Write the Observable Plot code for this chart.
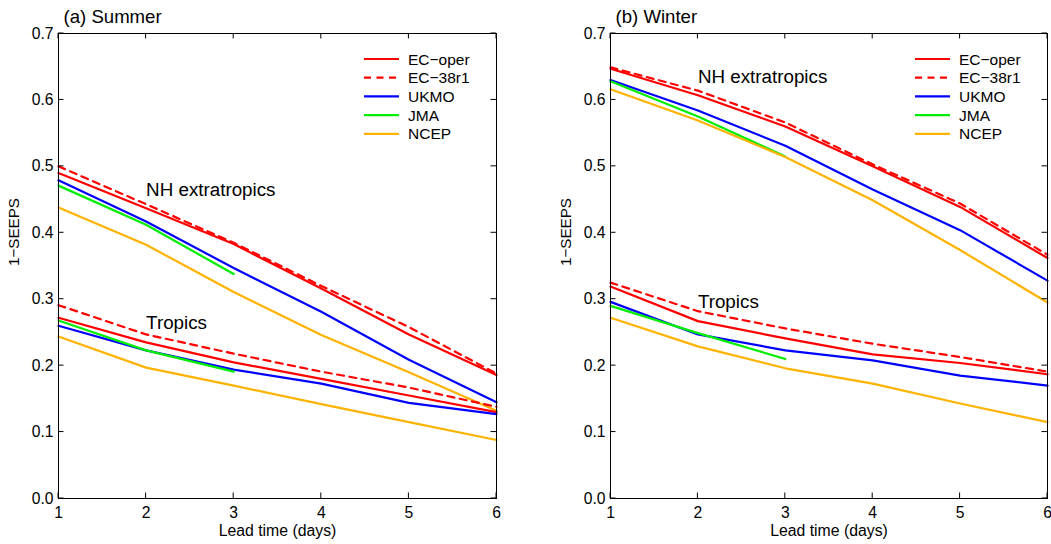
<!DOCTYPE html>
<html>
<head>
<meta charset="utf-8">
<script src="https://cdn.jsdelivr.net/npm/d3@7"></script>
<script src="https://cdn.jsdelivr.net/npm/@observablehq/plot@0.6"></script>
<style>
  html, body { margin: 0; padding: 0; background: #fff; }
  #wrap { display: flex; width: 1051px; height: 544px; }
  #wrap svg { flex: none; max-width: none; overflow: visible; }
</style>
</head>
<body>
<div id="wrap"></div>
<script>
const LEAD = [1, 2, 3, 4, 5, 6];
const Y_TICKS = [0, 0.1, 0.2, 0.3, 0.4, 0.5, 0.6, 0.7];
const MODELS = ["EC−oper", "EC−38r1", "UKMO", "JMA", "NCEP"];
const COLORS = ["#ff0000", "#ff0000", "#0000ff", "#00ee00", "#ffb300"];
const DASHED = ["EC−38r1"];
const X_LABEL = "Lead time (days)";
const Y_LABEL = "1−SEEPS";

// (a) Summer
const summerNH = {
  "EC−oper": [0.490, 0.437, 0.383, 0.316, 0.247, 0.186],
  "EC−38r1": [0.500, 0.443, 0.385, 0.320, 0.258, 0.188],
  "UKMO":    [0.479, 0.417, 0.347, 0.281, 0.209, 0.145],
  "JMA":     [0.471, 0.412, 0.338],
  "NCEP":    [0.438, 0.382, 0.311, 0.246, 0.190, 0.132]
};
const summerTropics = {
  "EC−oper": [0.272, 0.235, 0.205, 0.180, 0.155, 0.130],
  "EC−38r1": [0.291, 0.247, 0.218, 0.191, 0.167, 0.138],
  "UKMO":    [0.260, 0.223, 0.194, 0.173, 0.144, 0.127],
  "JMA":     [0.268, 0.223, 0.191],
  "NCEP":    [0.244, 0.197, 0.170, 0.142, 0.115, 0.088]
};
// (b) Winter
const winterNH = {
  "EC−oper": [0.647, 0.607, 0.560, 0.500, 0.439, 0.362],
  "EC−38r1": [0.649, 0.614, 0.566, 0.503, 0.444, 0.367],
  "UKMO":    [0.630, 0.584, 0.531, 0.465, 0.404, 0.328],
  "JMA":     [0.628, 0.575, 0.515],
  "NCEP":    [0.616, 0.569, 0.514, 0.449, 0.374, 0.295]
};
const winterTropics = {
  "EC−oper": [0.319, 0.267, 0.241, 0.217, 0.204, 0.187],
  "EC−38r1": [0.325, 0.282, 0.256, 0.233, 0.213, 0.191],
  "UKMO":    [0.296, 0.247, 0.223, 0.208, 0.185, 0.170],
  "JMA":     [0.290, 0.249, 0.210],
  "NCEP":    [0.272, 0.229, 0.196, 0.173, 0.143, 0.115]
};

const summerLabels = [
  {x: 2, y: 0.465, text: "NH extratropics"},
  {x: 2, y: 0.264, text: "Tropics"}
];
const winterLabels = [
  {x: 2, y: 0.635, text: "NH extratropics"},
  {x: 2, y: 0.296, text: "Tropics"}
];

const FONT = "Liberation Sans, Arial, Helvetica, sans-serif";

function toRows(regionName, obj) {
  const rows = [];
  for (const m of MODELS) {
    (obj[m] || []).forEach((v, i) => rows.push({region: regionName, model: m, lead: LEAD[i], value: v}));
  }
  return rows;
}

function innerTicks(index, scales, values, dims) {
  const {width, height, marginLeft, marginRight, marginTop, marginBottom} = dims;
  const L = 5.5;
  const g = d3.create("svg:g").attr("stroke", "black").attr("stroke-width", 1);
  const x0 = marginLeft, x1 = width - marginRight, y0 = marginTop, y1 = height - marginBottom;
  for (const t of LEAD) {
    const px = scales.x(t);
    g.append("line").attr("x1", px).attr("x2", px).attr("y1", y1).attr("y2", y1 - L);
    g.append("line").attr("x1", px).attr("x2", px).attr("y1", y0).attr("y2", y0 + L);
  }
  for (const t of Y_TICKS) {
    const py = scales.y(t);
    g.append("line").attr("y1", py).attr("y2", py).attr("x1", x0).attr("x2", x0 + L);
    g.append("line").attr("y1", py).attr("y2", py).attr("x1", x1).attr("x2", x1 - L);
  }
  return g.node();
}

function legend(index, scales, values, dims) {
  const {width, marginRight, marginTop} = dims;
  const right = width - marginRight;
  const g = d3.create("svg:g").attr("font-family", FONT).attr("font-size", 15.5).attr("text-anchor", "start");
  MODELS.forEach((m, i) => {
    const yy = marginTop + 26 + i * 18.7;
    g.append("line")
      .attr("x1", right - 132).attr("x2", right - 97)
      .attr("y1", yy).attr("y2", yy)
      .attr("stroke", scales.color ? scales.color(m) : COLORS[i])
      .attr("stroke-width", 2.2)
      .attr("stroke-dasharray", DASHED.includes(m) ? "7,5.5" : null);
    g.append("text")
      .attr("x", right - 88).attr("y", yy)
      .attr("dy", "0.36em")
      .attr("text-anchor", "start")
      .attr("fill", "black")
      .text(m);
  });
  return g.node();
}

function panel(title, nh, tropics, labels, width, marginLeft, marginRight) {
  const rows = [...toRows("NH", nh), ...toRows("Tropics", tropics)];
  const solid = rows.filter(d => !DASHED.includes(d.model));
  const dashed = rows.filter(d => DASHED.includes(d.model));
  return Plot.plot({
    width, height: 544,
    marginLeft, marginRight, marginTop: 33, marginBottom: 46,
    style: {fontFamily: FONT, fontSize: "15.5px", color: "black", background: "white", overflow: "visible"},
    x: {domain: [1, 6], ticks: LEAD, tickFormat: d3.format("d"), label: null},
    y: {domain: [0, 0.7], ticks: Y_TICKS, tickFormat: d3.format(".1f"), label: null},
    color: {domain: MODELS, range: COLORS},
    marks: [
      Plot.line(solid, {x: "lead", y: "value", z: d => d.region + d.model, stroke: "model", strokeWidth: 2.2}),
      Plot.line(dashed, {x: "lead", y: "value", z: d => d.region + d.model, stroke: "model", strokeWidth: 2.2, strokeDasharray: "7,5.5"}),
      Plot.frame({stroke: "black", strokeWidth: 1}),
      innerTicks,
      Plot.axisX({ticks: LEAD, tickFormat: d3.format("d"), tickSize: 0, tickPadding: 8, fontSize: 15.7, label: null}),
      Plot.axisY({ticks: Y_TICKS, tickFormat: d3.format(".1f"), tickSize: 0, tickPadding: 5, fontSize: 15.7, label: null}),
      Plot.text([X_LABEL], {frameAnchor: "bottom", dy: 32, lineAnchor: "middle", fontSize: 15.8, fill: "black"}),
      Plot.text([Y_LABEL], {frameAnchor: "left", dx: -44, rotate: -90, lineAnchor: "middle", fontSize: 15.2, fill: "black"}),
      Plot.text(labels, {x: "x", y: "y", text: "text", textAnchor: "start", fontSize: 18.8, fill: "black"}),
      Plot.text([title], {frameAnchor: "top-left", dx: 5, dy: -16, lineAnchor: "middle", textAnchor: "start", fontSize: 18.6, fill: "black"}),
      legend
    ]
  });
}

const wrap = document.getElementById("wrap");
wrap.append(panel("(a) Summer", summerNH, summerTropics, summerLabels, 525, 58, 29));
wrap.append(panel("(b) Winter", winterNH, winterTropics, winterLabels, 526, 85, 4));
</script>
</body>
</html>
